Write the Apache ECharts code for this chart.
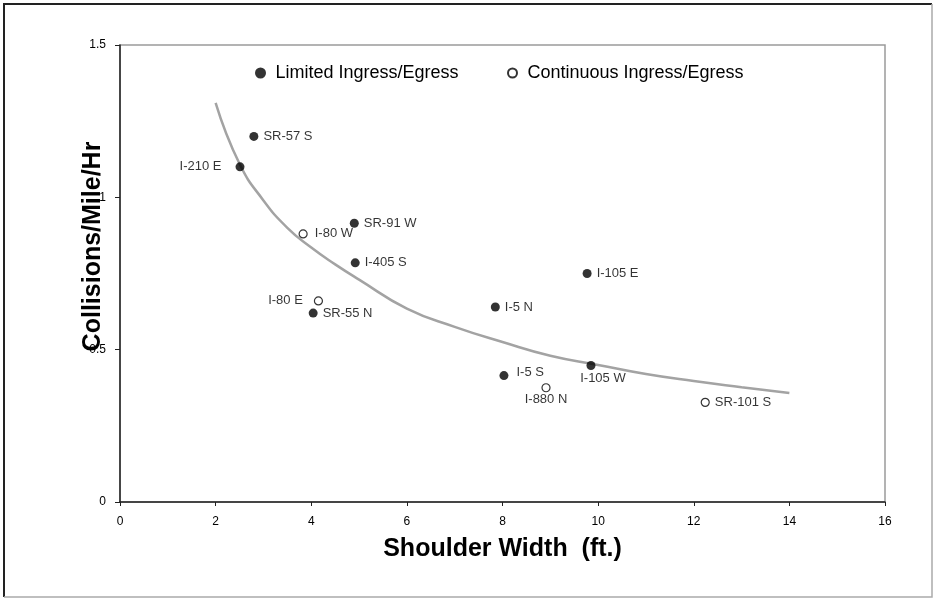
<!DOCTYPE html>
<html>

<head>
    <meta charset="utf-8">
    <title>Collisions vs Shoulder Width</title>
    <script src="https://cdn.jsdelivr.net/npm/echarts@6/dist/echarts.min.js"></script>
</head>
<style>
    body {
        margin: 0;
        background: #fff;
    }
</style>

<body>
    <div id="main" style="width: 934px;height:599px;"></div>
    <script type="text/javascript">
        // data
        var limitedNames = ['SR-57 S', 'I-210 E', 'SR-91 W', 'I-405 S', 'SR-55 N', 'I-5 N', 'I-105 E', 'I-5 S', 'I-105 W'];
        var limitedX = [2.80, 2.51, 4.90, 4.92, 4.04, 7.85, 9.77, 8.03, 9.85];
        var limitedY = [1.20, 1.10, 0.915, 0.785, 0.62, 0.64, 0.75, 0.415, 0.448];

        var continuousNames = ['I-80 W', 'I-80 E', 'I-880 N', 'SR-101 S'];
        var continuousX = [3.83, 4.15, 8.91, 12.24];
        var continuousY = [0.88, 0.66, 0.375, 0.327];

        // fitted trend line
        var curveX = [2, 2.5, 3, 3.5, 4, 4.5, 5, 6, 7, 8, 9, 10, 11, 12, 13, 14];
        var curveY = [1.31, 1.11, 0.99, 0.90, 0.835, 0.78, 0.73, 0.635, 0.575, 0.525, 0.48, 0.45, 0.42, 0.397, 0.377, 0.358];

        var xTicks = { min: 0, max: 16, interval: 2 };
        var yTicks = { min: 0, max: 1.5, interval: 0.5 };

        // label placement per point (default: right of the marker)
        var labelStyle = {
            'I-210 E': { position: 'left', distance: 14 },
            'I-80 E': { position: 'left', distance: 11 },
            'I-105 W': { position: 'bottom', distance: 2, offset: [12, 0] },
            'I-880 N': { position: 'bottom', distance: 1 },
            'I-5 S': { position: 'right', distance: 8, offset: [0, -3] },
            'I-80 W': { position: 'right', distance: 7 }
        };

        function pointData(names, xs, ys) {
            return names.map(function (n, i) {
                var lab = labelStyle[n] || { position: 'right', distance: 5 };
                return {
                    name: n,
                    value: [xs[i], ys[i]],
                    label: {
                        position: lab.position,
                        distance: lab.distance,
                        offset: lab.offset || [0, 0]
                    }
                };
            });
        }

        var myChart = echarts.init(document.getElementById('main'));

        var font = 'Liberation Sans, Arial, sans-serif';

        var option = {
            animation: false,
            textStyle: { fontFamily: font },
            legend: [{
                data: ['Limited Ingress/Egress'],
                left: 250,
                top: 59,
                itemWidth: 20,
                itemHeight: 11,
                textStyle: { fontSize: 18, color: '#000', fontFamily: font }
            }, {
                data: ['Continuous Ingress/Egress'],
                left: 502,
                top: 59,
                itemWidth: 20,
                itemHeight: 9,
                textStyle: { fontSize: 18, color: '#000', fontFamily: font }
            }],
            grid: {
                left: 120,
                right: 49,
                top: 45,
                bottom: 97,
                show: true,
                borderColor: '#9a9a9a',
                borderWidth: 1.5
            },
            xAxis: {
                type: 'value',
                min: xTicks.min,
                max: xTicks.max,
                interval: xTicks.interval,
                name: 'Shoulder Width  (ft.)',
                nameLocation: 'middle',
                nameGap: 35,
                nameTextStyle: { fontSize: 25, fontWeight: 'bold', color: '#000', fontFamily: font },
                splitLine: { show: false },
                axisLine: { lineStyle: { color: '#222', width: 1.5 } },
                axisTick: { length: 4, lineStyle: { color: '#222' } },
                axisLabel: { fontSize: 12, color: '#000', margin: 14, fontFamily: font }
            },
            yAxis: {
                type: 'value',
                min: yTicks.min,
                max: yTicks.max,
                interval: yTicks.interval,
                name: 'Collisions/Mile/Hr',
                nameLocation: 'middle',
                nameGap: 14,
                nameMoveOverlap: false,
                nameTextStyle: { fontSize: 25, fontWeight: 'bold', color: '#000', fontFamily: font, padding: [0, 0, 0, 54] },
                splitLine: { show: false },
                axisLine: { show: true, lineStyle: { color: '#222', width: 1.5 } },
                axisTick: { show: true, length: 5, lineStyle: { color: '#222' } },
                axisLabel: { fontSize: 12, color: '#000', margin: 14, fontFamily: font }
            },
            graphic: [{
                // outer frame
                type: 'polyline',
                shape: { points: [[4, 597], [4, 4], [932, 4]] },
                style: { stroke: '#222', lineWidth: 2, fill: null }
            }, {
                type: 'polyline',
                shape: { points: [[932, 4], [932, 597], [4, 597]] },
                style: { stroke: '#aaa', lineWidth: 1.5, fill: null }
            }],
            series: [{
                name: 'trend',
                type: 'line',
                data: curveX.map(function (x, i) { return [x, curveY[i]]; }),
                smooth: true,
                showSymbol: false,
                lineStyle: { color: '#a3a3a3', width: 2.5 },
                z: 1,
                silent: true
            }, {
                name: 'Limited Ingress/Egress',
                type: 'scatter',
                data: pointData(limitedNames, limitedX, limitedY),
                symbol: 'circle',
                symbolSize: 9,
                itemStyle: { color: '#000' },
                label: {
                    show: true,
                    formatter: '{b}',
                    fontSize: 13,
                    color: '#000',
                    fontFamily: font
                },
                z: 3
            }, {
                name: 'Continuous Ingress/Egress',
                type: 'scatter',
                data: pointData(continuousNames, continuousX, continuousY),
                symbol: 'circle',
                symbolSize: 8,
                itemStyle: { color: '#fff', borderColor: '#000', borderWidth: 1.2 },
                label: {
                    show: true,
                    formatter: '{b}',
                    fontSize: 13,
                    color: '#000',
                    fontFamily: font
                },
                z: 3
            }]
        };

        myChart.setOption(option);
    </script>
</body>

</html>
